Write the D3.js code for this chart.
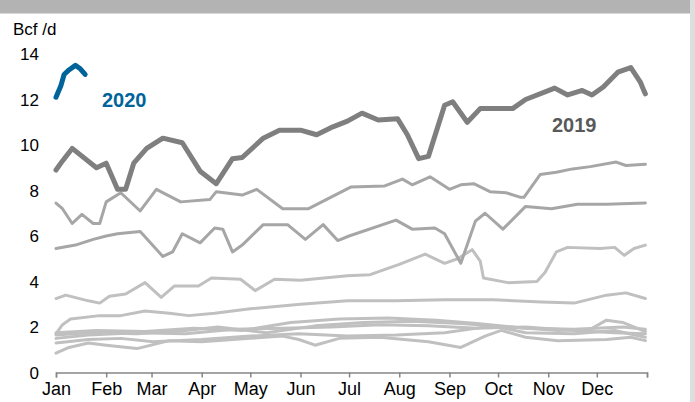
<!DOCTYPE html>
<html>
<head>
<meta charset="utf-8">
<script src="https://cdn.jsdelivr.net/npm/d3@7"></script>
<style>
    body { margin: 0; background: #fff; }
    svg { display: block; font-family: "Liberation Sans", Arial, sans-serif; }
</style>
</head>
<body>
<div id="chart"></div>
<script>
// each point is [day of year (0 = Jan 1), Bcf/d]
var months = ["Jan", "Feb", "Mar", "Apr", "May", "Jun", "Jul", "Aug", "Sep", "Oct", "Nov", "Dec"];
var yTicks = [0, 2, 4, 6, 8, 10, 12, 14];

var series2020 = [[0, 12.1], [3, 12.6], [5, 13.1], [8, 13.3], [12, 13.5], [15, 13.35], [18, 13.1]];

var series2019 = [
    [0, 8.9], [4, 9.3], [10, 9.85], [25, 9.0], [31, 9.2], [38, 8.05], [43, 8.05], [48, 9.2],
    [56, 9.85], [66, 10.3], [78, 10.1], [89, 8.85], [99, 8.3], [109, 9.4], [115, 9.45],
    [128, 10.3], [138, 10.65], [151, 10.65], [161, 10.45], [171, 10.8], [180, 11.05],
    [189, 11.4], [199, 11.1], [211, 11.15], [217, 10.45], [224, 9.4], [230, 9.5],
    [240, 11.75], [245, 11.9], [254, 11.0], [262, 11.6], [282, 11.6], [290, 12.0],
    [308, 12.5], [316, 12.2], [325, 12.4], [331, 12.2], [338, 12.55], [347, 13.2],
    [355, 13.4], [361, 12.75], [363, 12.4], [364, 12.25]
];

// the two darker of the older years
var seriesA = [
    [0, 7.45], [4, 7.2], [10, 6.55], [16, 6.95], [23, 6.55], [27, 6.55], [31, 7.5], [40, 7.9],
    [52, 7.1], [62, 8.05], [77, 7.5], [95, 7.6], [99, 7.95], [115, 7.8], [124, 8.05],
    [140, 7.2], [156, 7.2], [182, 8.15], [203, 8.2], [214, 8.5], [220, 8.25], [231, 8.6],
    [243, 8.05], [250, 8.25], [258, 8.3], [268, 7.95], [278, 7.9], [287, 7.7], [289, 7.7],
    [299, 8.7], [309, 8.8], [319, 8.95], [330, 9.05], [346, 9.25], [352, 9.1], [364, 9.15]
];
var seriesB = [
    [0, 5.45], [12, 5.6], [23, 5.85], [31, 6.0], [38, 6.1], [52, 6.2], [66, 5.1], [72, 5.3],
    [78, 6.1], [89, 5.7], [98, 6.35], [103, 6.3], [109, 5.3], [115, 5.6], [128, 6.5],
    [143, 6.5], [154, 5.85], [165, 6.5], [174, 5.8], [181, 6.0], [210, 6.7], [220, 6.3],
    [234, 6.35], [240, 6.1], [250, 4.8], [259, 6.65], [265, 7.0], [276, 6.3], [290, 7.3],
    [306, 7.2], [322, 7.4], [340, 7.4], [364, 7.45]
];

// lighter older years
var seriesC = [
    [0, 3.25], [6, 3.4], [20, 3.15], [27, 3.05], [33, 3.35], [43, 3.45], [55, 3.95],
    [65, 3.3], [73, 3.8], [88, 3.8], [96, 4.15], [114, 4.1], [123, 3.6], [135, 4.1],
    [151, 4.05], [180, 4.25], [194, 4.3], [212, 4.75], [228, 5.2], [240, 4.8], [248, 5.0],
    [257, 5.4], [262, 4.9], [264, 4.15], [279, 3.95], [297, 4.0], [302, 4.4], [309, 5.3],
    [316, 5.5], [336, 5.45], [345, 5.5], [351, 5.15], [357, 5.45], [364, 5.6]
];
var seriesD = [
    [0, 1.7], [4, 2.1], [9, 2.35], [27, 2.5], [40, 2.5], [55, 2.7], [70, 2.6], [82, 2.5],
    [98, 2.6], [120, 2.8], [151, 3.0], [180, 3.15], [210, 3.15], [240, 3.2], [270, 3.2],
    [300, 3.1], [320, 3.05], [340, 3.4], [352, 3.5], [364, 3.25]
];
var seriesE = [
    [0, 0.85], [8, 1.1], [20, 1.3], [31, 1.2], [50, 1.05], [70, 1.4], [90, 1.35], [120, 1.5],
    [140, 1.6], [150, 1.45], [160, 1.2], [175, 1.5], [200, 1.55], [230, 1.35], [250, 1.1],
    [265, 1.6], [275, 1.85], [290, 1.55], [310, 1.4], [340, 1.45], [355, 1.55], [364, 1.4]
];
var seriesF = [
    [0, 1.3], [20, 1.45], [40, 1.5], [60, 1.35], [90, 1.45], [120, 1.6], [150, 1.7], [180, 1.6],
    [210, 1.65], [240, 1.75], [270, 2.05], [290, 1.75], [320, 1.7], [345, 1.85], [364, 1.55]
];
var seriesG = [
    [0, 1.5], [20, 1.65], [50, 1.75], [80, 1.7], [110, 1.9], [140, 1.95], [170, 2.0], [200, 2.1],
    [230, 2.05], [260, 1.95], [290, 2.0], [320, 1.85], [345, 1.75], [364, 1.7]
];
var seriesH = [
    [0, 1.65], [20, 1.75], [50, 1.7], [80, 1.85], [100, 2.0], [130, 1.75], [160, 2.05], [190, 2.2],
    [220, 2.25], [250, 2.15], [280, 2.0], [310, 1.85], [330, 1.9], [340, 2.3], [350, 2.2], [364, 1.8]
];
var seriesI = [
    [0, 1.75], [25, 1.85], [55, 1.8], [85, 1.95], [115, 1.85], [145, 2.2], [175, 2.35], [205, 2.4],
    [235, 2.3], [260, 2.15], [290, 1.95], [320, 1.9], [350, 2.0], [364, 1.9]
];

var width = 695, height = 402;

var svg = d3.select("#chart").append("svg")
    .attr("width", width)
    .attr("height", height);

// frame bands
svg.append("rect").attr("x", 0).attr("y", 0).attr("width", 690).attr("height", 13.5).attr("fill", "#b3b3b3");
svg.append("rect").attr("x", 690).attr("y", 0).attr("width", 5).attr("height", height).attr("fill", "#dedede");

var dayToDate = function(d) { return new Date(2019, 0, 1 + d); };

var x = d3.scaleTime()
    .domain([new Date(2019, 0, 1), new Date(2020, 0, 1)])
    .range([56, 647]);
var y = d3.scaleLinear()
    .domain([0, 14])
    .range([372.5, 54]);

var line = d3.line()
    .x(function(d) { return x(dayToDate(d[0])); })
    .y(function(d) { return y(d[1]); });

function drawLine(data, color, w) {
    svg.append("path")
        .datum(data)
        .attr("d", line)
        .attr("fill", "none")
        .attr("stroke", color)
        .attr("stroke-width", w)
        .attr("stroke-linejoin", "round")
        .attr("stroke-linecap", "round");
}

[seriesE, seriesF, seriesG, seriesH, seriesI, seriesD, seriesC].forEach(function(s) {
    drawLine(s, "#c0c0c0", 3);
});
drawLine(seriesA, "#a6a6a6", 3);
drawLine(seriesB, "#a6a6a6", 3);
drawLine(series2019, "#7f7f7f", 5);
drawLine(series2020, "#00649a", 5);

// x axis
var monthStarts = d3.range(13).map(function(m) { return new Date(2019, m, 1); });
var xAxis = d3.axisBottom(x)
    .tickValues(monthStarts)
    .tickSize(5)
    .tickPadding(5)
    .tickFormat(function(d, i) { return i < 12 ? months[i] : ""; });

var gx = svg.append("g")
    .attr("transform", "translate(0," + y(0) + ")")
    .call(xAxis);
gx.select(".domain").attr("stroke", "#868686").attr("stroke-width", 1.5);
gx.selectAll(".tick line").attr("stroke", "#868686").attr("stroke-width", 1.5);
gx.selectAll(".tick text")
    .attr("fill", "#000")
    .style("font-size", "18px")
    .style("font-family", "'Liberation Sans', Arial, sans-serif");

// y labels, no axis line
svg.append("g").selectAll("text")
    .data(yTicks)
    .enter()
    .append("text")
    .attr("x", 39)
    .attr("y", function(d) { return y(d); })
    .attr("dy", "0.36em")
    .attr("text-anchor", "end")
    .style("font-size", "17px")
    .text(function(d) { return d; });

svg.append("text")
    .attr("x", 13)
    .attr("y", 35)
    .style("font-size", "17px")
    .text("Bcf /d");

svg.append("text")
    .attr("x", 102)
    .attr("y", 107)
    .attr("fill", "#00649a")
    .style("font-size", "20px")
    .style("font-weight", "bold")
    .text("2020");

svg.append("text")
    .attr("x", 552)
    .attr("y", 132)
    .attr("fill", "#595959")
    .style("font-size", "20px")
    .style("font-weight", "bold")
    .text("2019");
</script>
</body>
</html>
